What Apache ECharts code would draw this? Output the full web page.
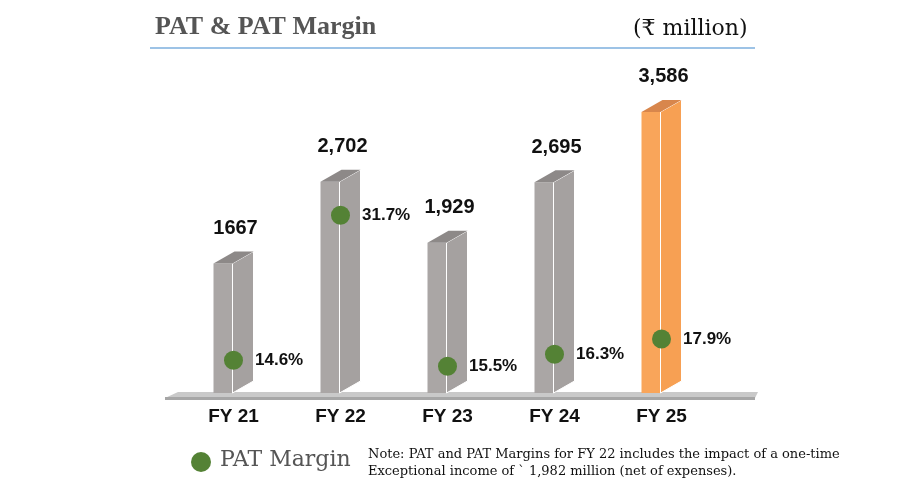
<!DOCTYPE html>
<html><head><meta charset="utf-8">
<script src="https://cdn.jsdelivr.net/npm/echarts@6/dist/echarts.min.js"></script>
<style>html,body{margin:0;background:#fff}#c{width:915px;height:491px}</style>
</head><body><div id="c"></div>
<script>
const categories = ['FY 21','FY 22','FY 23','FY 24','FY 25'];
const patValues = [1667, 2702, 1929, 2695, 3586];
const patLabels = ['1667','2,702','1,929','2,695','3,586'];
const marginValues = [14.6, 31.7, 15.5, 16.3, 17.9];
const marginPlot = [14.6, 31.7, 13.9, 15.3, 17.1];

const chart = echarts.init(document.getElementById('c'));
const serif = 'DejaVu Serif, Liberation Serif, serif';
chart.setOption({
  animation:false,
  grid:{left:180,right:200,top:95,bottom:96},
  xAxis:{type:'category',data:categories,axisLine:{show:false},axisTick:{show:false},
    axisLabel:{fontFamily:'Liberation Sans, Arial',fontWeight:'bold',fontSize:19,color:'#111',margin:12}},
  yAxis:[{type:'value',min:0,max:3800,show:false},{type:'value',min:10.5,max:45.9,show:false}],
  graphic:[
    {type:'text',left:155,top:14,style:{text:'PAT & PAT Margin',font:'bold 26px Liberation Serif, serif',fill:'#555'}},
    {type:'text',left:633,top:18,style:{text:'(₹ million)',font:'22px '+serif,fill:'#111'}},
    {type:'rect',shape:{x:150,y:47,width:605,height:2},style:{fill:'#9dc3e6'}},
    {type:'polygon',z:0,shape:{points:[[178,392],[758,392],[755,398],[165,398]]},style:{fill:'#c9c9c9'}},
    {type:'rect',z:0,shape:{x:165,y:397,width:590,height:3},style:{fill:'#a6a6a6'}},
    {type:'circle',shape:{cx:201,cy:462,r:10},style:{fill:'#548235'}},
    {type:'text',left:220,top:449,style:{text:'PAT Margin',font:'22px '+serif,fill:'#555'}},
    {type:'text',left:368,top:446,style:{text:'Note: PAT and PAT Margins for FY 22 includes the impact of a one-time\nExceptional income of ` 1,982 million (net of expenses).',font:'13px '+serif,fill:'#111',lineHeight:17}}
  ],
  series:[
    {type:'custom',data:patValues.map((v,i)=>[i,v]),z:2,
     renderItem:function(params,api){
       const i=api.value(0), v=api.value(1);
       const top=api.coord([i,v]), base=api.coord([i,0]);
       const x=top[0], t=top[1], b=base[1]-2, d=12;
       const orange=i===4;
       const face=orange?'#f9a55a':'#aaa6a5', side=orange?'#f7a053':'#a5a1a0', topc=orange?'#d8864c':'#8d8988';
       return {type:'group',children:[
         {type:'rect',shape:{x:x-20,y:t,width:19,height:b-t},style:{fill:face}},
         {type:'polygon',shape:{points:[[x-1,t],[x+20,t-d],[x+20,b-d],[x-1,b]]},style:{fill:side,stroke:'#fff',lineWidth:1}},
         {type:'polygon',shape:{points:[[x-20,t],[x+1,t-d],[x+20,t-d],[x-1,t]]},style:{fill:topc}},
         {type:'text',style:{text:patLabels[i],x:x+2,y:t-25,align:'center',verticalAlign:'bottom',
           font:'bold 20px Liberation Sans, Arial',fill:'#111'}}
       ]};
     }},
    {type:'scatter',yAxisIndex:1,data:marginPlot,symbolSize:19,z:5,
     itemStyle:{color:'#548235',opacity:1},
     label:{show:true,position:'right',distance:12,formatter:p=>marginValues[p.dataIndex].toFixed(1)+'%',
       fontFamily:'Liberation Sans, Arial',fontWeight:'bold',fontSize:17,color:'#111'}}
  ]
});
</script></body></html>
